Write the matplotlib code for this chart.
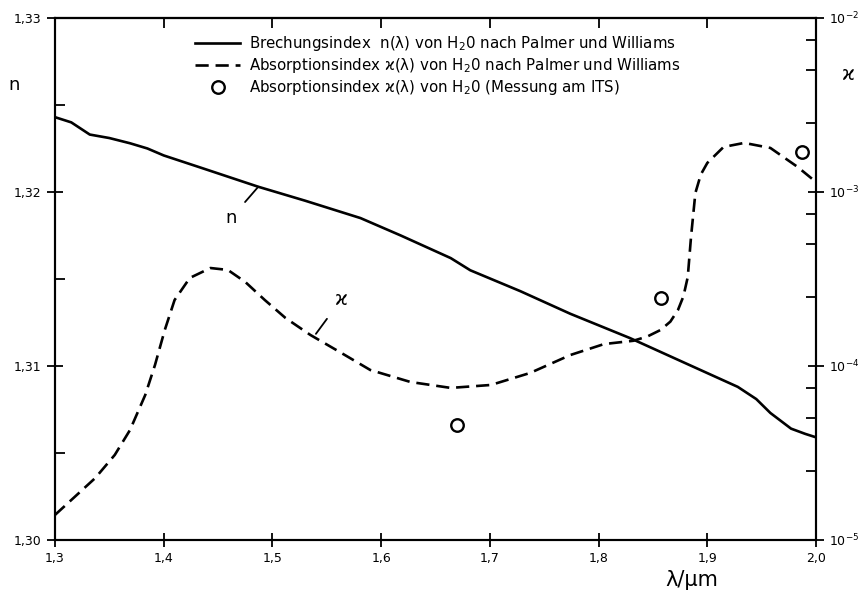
import matplotlib
matplotlib.use('Agg')
import matplotlib.pyplot as plt
import numpy as np
from matplotlib.ticker import FixedLocator, FixedFormatter, NullFormatter

plt.rcParams['font.family'] = ['DejaVu Sans']

# Brechungsindex n(lambda), Palmer und Williams
lam_n = [1.300, 1.315, 1.332, 1.350, 1.369, 1.385, 1.400, 1.434, 1.487, 1.530, 1.581,
         1.618, 1.664, 1.682, 1.728, 1.774, 1.829, 1.882, 1.928, 1.945, 1.958, 1.977,
         1.990, 2.000]
n_val = [1.3243, 1.3240, 1.3233, 1.3231, 1.3228, 1.3225, 1.3221, 1.3214, 1.3203, 1.3195,
         1.3185, 1.3175, 1.3162, 1.3155, 1.3143, 1.3130, 1.3116, 1.3101, 1.3088, 1.3081,
         1.3073, 1.3064, 1.3061, 1.3059]

# Absorptionsindex kappa(lambda), Palmer und Williams (log10)
lam_k = [1.300, 1.318, 1.337, 1.355, 1.369, 1.383, 1.392, 1.401, 1.410, 1.424,
         1.443, 1.459, 1.475, 1.493, 1.512, 1.535, 1.562, 1.590, 1.627, 1.664,
         1.701, 1.737, 1.774, 1.805, 1.832, 1.845, 1.857, 1.866, 1.873, 1.878, 1.882,
         1.885, 1.889, 1.894, 1.900, 1.915, 1.934, 1.958, 1.983, 2.000]
logk = [-4.856, -4.753, -4.644, -4.511, -4.368, -4.167, -3.994, -3.793, -3.621, -3.494,
        -3.437, -3.448, -3.517, -3.621, -3.724, -3.822, -3.920, -4.023, -4.092, -4.126,
        -4.109, -4.040, -3.937, -3.874, -3.855, -3.830, -3.793, -3.745, -3.678, -3.600,
        -3.489, -3.259, -3.006, -2.900, -2.833, -2.741, -2.718, -2.747, -2.856, -2.943]
k_val = [10 ** v for v in logk]

# Messung am ITS
lam_its = [1.670, 1.857, 1.987]
k_its = [4.6e-5, 2.46e-4, 1.70e-3]

x_ticks = [1.3, 1.4, 1.5, 1.6, 1.7, 1.8, 1.9, 2.0]
x_labels = ['1,3', '1,4', '1,5', '1,6', '1,7', '1,8', '1,9', '2,0']
n_ticks = [1.30, 1.31, 1.32, 1.33]
n_labels = ['1,30', '1,31', '1,32', '1,33']
k_ticks = [1e-5, 1e-4, 1e-3, 1e-2]
k_labels = ['$10^{-5}$', '$10^{-4}$', '$10^{-3}$', '$10^{-2}$']

fig = plt.figure(figsize=(8.59, 5.99), dpi=100)
ax = fig.add_axes([0.064, 0.0985, 0.886, 0.8715])
ax2 = ax.twinx()

l1, = ax.plot(lam_n, n_val, color='black', lw=1.9, solid_joinstyle='round')
l2, = ax2.plot(lam_k, k_val, color='black', lw=1.9, dashes=(5, 2.6))
l3, = ax2.plot(lam_its, k_its, 'o', ms=9, mfc='white', mec='black', mew=1.7, ls='none')

ax.set_xlim(1.3, 2.0)
ax.set_ylim(1.30, 1.33)
ax2.set_yscale('log')
ax2.set_ylim(1e-5, 1e-2)

ax.xaxis.set_major_locator(FixedLocator(x_ticks))
ax.xaxis.set_major_formatter(FixedFormatter(x_labels))
ax.yaxis.set_major_locator(FixedLocator(n_ticks))
ax.yaxis.set_major_formatter(FixedFormatter(n_labels))
ax.yaxis.set_minor_locator(FixedLocator([1.305, 1.315, 1.325]))

ax2.yaxis.set_major_locator(FixedLocator(k_ticks))
ax2.yaxis.set_major_formatter(FixedFormatter(k_labels))
minors = []
for d in [1e-5, 1e-4, 1e-3]:
    minors += [2.5 * d, 5 * d, 7.5 * d]
ax2.yaxis.set_minor_locator(FixedLocator(minors))
ax2.yaxis.set_minor_formatter(NullFormatter())

for sp in ax.spines.values():
    sp.set_linewidth(1.5)
for sp in ax2.spines.values():
    sp.set_linewidth(1.5)

ax.tick_params(axis='x', which='major', direction='inout', length=10, width=1.3,
               labelsize=9, pad=4)
ax.tick_params(axis='y', which='major', direction='inout', length=12, width=1.3,
               labelsize=9)
ax.tick_params(axis='y', which='minor', direction='in', length=7, width=1.3)
ax2.tick_params(axis='y', which='major', direction='inout', length=12, width=1.3,
                labelsize=9)
ax2.tick_params(axis='y', which='minor', direction='in', length=7, width=1.3)

top = ax.secondary_xaxis('top')
top.xaxis.set_major_locator(FixedLocator(x_ticks))
top.tick_params(direction='in', length=7, width=1.3, labeltop=False)
top.spines['top'].set_linewidth(1.5)

# Kurvenbeschriftungen
ax.annotate('n', xy=(1.487, 1.3203), xytext=(1.462, 1.3185), fontsize=13,
            ha='center', va='center',
            arrowprops=dict(arrowstyle='-', color='black', lw=1.3, shrinkA=6, shrinkB=0))
ax2.annotate('ϰ', xy=(1.540, 1.53e-4), xytext=(1.563, 2.4e-4), fontsize=14,
             ha='center', va='center',
             arrowprops=dict(arrowstyle='-', color='black', lw=1.3, shrinkA=6, shrinkB=0))

fig.text(14 / 859, 1 - 85 / 599, 'n', fontsize=13, ha='center', va='center')
fig.text(848 / 859, 1 - 75 / 599, 'ϰ', fontsize=14, ha='center', va='center')
fig.text(692 / 859, 1 - 580 / 599, 'λ/μm', fontsize=15, ha='center', va='center')

labels = ['Brechungsindex  n(λ) von H$_2$0 nach Palmer und Williams',
          'Absorptionsindex ϰ(λ) von H$_2$0 nach Palmer und Williams',
          'Absorptionsindex ϰ(λ) von H$_2$0 (Messung am ITS)']
ax2.legend([l1, l2, l3], labels, loc='upper left',
           bbox_to_anchor=(195 / 859, 1 - 34 / 599), bbox_transform=fig.transFigure,
           frameon=False, fontsize=10.8, handlelength=3.0, handletextpad=0.6,
           labelspacing=0.2, borderpad=0, borderaxespad=0)

fig.savefig('out.png', dpi=100)
